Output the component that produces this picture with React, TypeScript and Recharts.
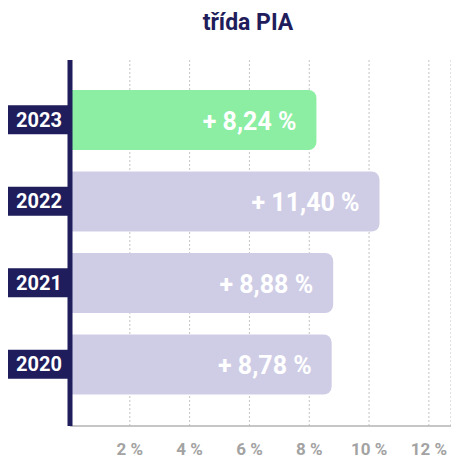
import { BarChart, Bar, XAxis, YAxis, CartesianGrid, Cell, LabelList } from "recharts";

// roky shora dolů
const years = ["2023", "2022", "2021", "2020"];
// délky sloupců (%)
const barValues = [8.24, 10.35, 8.8, 8.75];
// popisky uvnitř sloupců
const valueLabels = ["+ 8,24 %", "+ 11,40 %", "+ 8,88 %", "+ 8,78 %"];
const xTicks = [2, 4, 6, 8, 10, 12];

const NAVY = "#1f1d5b";
const GREEN = "#8beea3";
const LILAC = "#cfcde6";

const data = years.map((year, i) => ({ year, value: barValues[i], label: valueLabels[i] }));

const YearTick = (props: any) => {
  const { y, payload } = props;
  return (
    <g>
      <rect x={8} y={y - 14.5} width={60} height={29} fill={NAVY} />
      <text
        x={62}
        y={y}
        textAnchor="end"
        dominantBaseline="central"
        fill="#fff"
        fontSize={20}
        fontWeight={700}
      >
        {payload.value}
      </text>
    </g>
  );
};

const PercentTick = (props: any) => {
  const { x, payload } = props;
  return (
    <text x={x} y={455} textAnchor="middle" fill="#a3a3a3" fontSize={17} fontWeight={700}>
      {payload.value} %
    </text>
  );
};

const BarText = (props: any) => {
  const { x, y, width, height, index } = props;
  return (
    <text
      x={x + width - 20}
      y={y + height / 2 + 1}
      textAnchor="end"
      dominantBaseline="central"
      fill="#fff"
      fontSize={25}
      fontWeight={700}
    >
      {data[index].label}
    </text>
  );
};

export default function App() {
  return (
    <div style={{ position: "absolute", left: 0, top: 0, width: 451, height: 459, fontFamily: "Roboto, sans-serif", background: "#fff" }}>
      <div
        style={{
          position: "absolute",
          left: 0,
          width: 496,
          top: 9,
          textAlign: "center",
          fontSize: 23,
          fontWeight: 700,
          color: NAVY,
        }}
      >
        třída PIA
      </div>
      <BarChart
        width={451}
        height={459}
        data={data}
        layout="vertical"
        margin={{ top: 60, right: 0, bottom: 0, left: 0 }}
      >
        <CartesianGrid horizontal={false} stroke="#c4c4c4" strokeDasharray="2 2" />
        <XAxis
          type="number"
          domain={[0, 12.74]}
          ticks={xTicks}
          height={33}
          axisLine={{ stroke: "#b3b3b3", strokeWidth: 1.5 }}
          tickLine={false}
          tick={<PercentTick />}
          allowDataOverflow
        />
        <YAxis
          type="category"
          dataKey="year"
          width={70}
          padding={{ top: 19, bottom: 21 }}
          axisLine={{ stroke: NAVY, strokeWidth: 5 }}
          tickLine={false}
          tick={<YearTick />}
        />
        <Bar dataKey="value" barSize={60} radius={[0, 8, 8, 0]} isAnimationActive={false}>
          {data.map((d, i) => (
            <Cell key={d.year} fill={i === 0 ? GREEN : LILAC} />
          ))}
          <LabelList dataKey="label" content={<BarText />} />
        </Bar>
      </BarChart>
    </div>
  );
}
